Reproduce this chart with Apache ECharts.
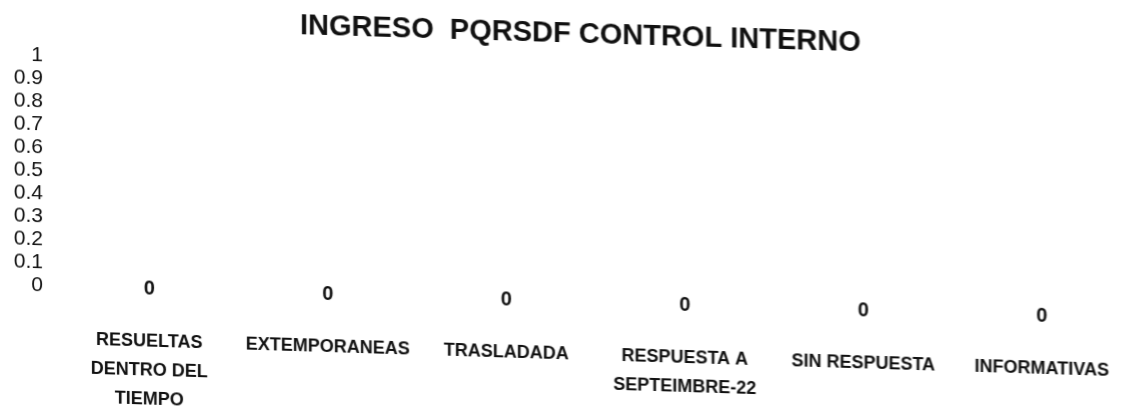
<!DOCTYPE html>
<html><head><meta charset="utf-8">
<script src="https://cdn.jsdelivr.net/npm/echarts@6/dist/echarts.min.js"></script>
<style>
html,body{margin:0;padding:0;background:#fff;overflow:hidden}
#c{width:1131px;height:411px;transform:skewY(1.75deg);transform-origin:0 0}
</style></head>
<body><div id="c"></div>
<script>
const title = 'INGRESO  PQRSDF CONTROL INTERNO';
const categories = ['RESUELTAS\nDENTRO DEL\nTIEMPO', 'EXTEMPORANEAS', 'TRASLADADA', 'RESPUESTA A\nSEPTEIMBRE-22', 'SIN RESPUESTA', 'INFORMATIVAS'];
const values = [0, 0, 0, 0, 0, 0];
const yMin = 0, yMax = 1, yStep = 0.1;

const chart = echarts.init(document.getElementById('c'), null, {renderer: 'canvas'});
const font = '"Liberation Sans", Arial, sans-serif';
chart.setOption({
  animation: false,
  backgroundColor: '#fff',
  title: {
    text: title, left: 295, top: -3,
    textStyle: {fontFamily: font, fontSize: 29, fontWeight: 'bold', color: '#111'}
  },
  grid: {left: 60, right: -12, top: 54, bottom: 127},
  xAxis: {
    type: 'category', data: categories,
    axisLine: {show: false}, axisTick: {show: false},
    axisLabel: {interval: 0, margin: 39, fontFamily: font, fontSize: 18, fontWeight: 'bold', color: '#111', lineHeight: 29, verticalAlign: 'top'}
  },
  yAxis: {
    type: 'value', min: yMin, max: yMax, interval: yStep,
    splitLine: {show: false}, axisLine: {show: false}, axisTick: {show: false},
    axisLabel: {margin: 17, fontFamily: font, fontSize: 21, color: '#111'}
  },
  series: [{
    type: 'bar', data: values, barWidth: '40%',
    itemStyle: {color: '#4472c4'},
    label: {show: true, position: 'inside', fontFamily: font, fontSize: 20, fontWeight: 'bold', color: '#111'}
  }]
});
</script></body></html>
